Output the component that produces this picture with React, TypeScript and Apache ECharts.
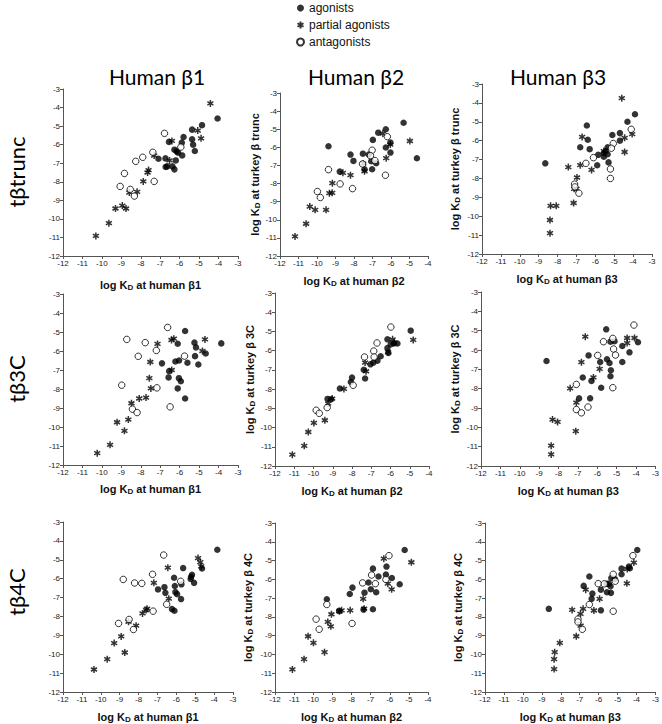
import React, { useEffect, useRef } from 'react';
import * as echarts from 'echarts';

// ---------- data: [human log KD, turkey log KD] ----------
// row 1: turkey beta trunc
const trunc_b1_ag = [[-4.05,-4.59],[-4.85,-4.95],[-5.36,-5.19],[-5.8,-5.59],[-5.36,-5.71],[-5.89,-5.89],[-5.31,-6.0],[-5.22,-6.34],[-6.27,-6.27],[-6.16,-6.36],[-6.08,-6.43],[-5.87,-6.58],[-6.73,-6.74],[-7.09,-6.76],[-6.2,-6.85],[-6.64,-7.17],[-6.37,-7.17],[-6.27,-7.33],[-6.55,-5.85],[-6.72,-7.2]];
const trunc_b1_pa = [[-4.42,-3.78],[-5.07,-5.24],[-4.9,-5.66],[-6.4,-5.8],[-7.31,-6.59],[-6.52,-6.85],[-7.6,-7.37],[-7.65,-7.5],[-7.87,-7.98],[-8.19,-8.54],[-8.59,-8.58],[-9.3,-9.44],[-8.95,-9.28],[-8.76,-9.44],[-9.64,-10.23],[-10.31,-10.92]];
const trunc_b1_an = [[-6.78,-5.39],[-5.94,-6.13],[-7.38,-6.41],[-7.9,-6.68],[-8.26,-6.9],[-8.84,-7.55],[-7.31,-7.98],[-9.06,-8.25],[-8.54,-8.41],[-8.33,-8.77]];

const trunc_b2_ag = [[-5.32,-4.64],[-6.28,-5.0],[-6.69,-5.19],[-6.98,-5.59],[-6.28,-6.01],[-6.03,-5.74],[-6.03,-6.29],[-9.38,-5.94],[-8.19,-6.4],[-8.03,-6.75],[-7.52,-6.35],[-7.2,-6.4],[-7.07,-6.77],[-6.8,-6.88],[-7.43,-7.21],[-7.02,-7.21],[-8.77,-7.34],[-4.6,-6.6]];
const trunc_b2_pa = [[-6.44,-5.24],[-4.98,-5.65],[-6.04,-5.85],[-6.26,-6.6],[-7.5,-6.9],[-7.43,-7.32],[-8.6,-7.41],[-8.19,-7.54],[-9.17,-7.98],[-9.33,-8.53],[-9.18,-8.51],[-10.39,-9.27],[-10.1,-9.45],[-9.51,-9.45],[-10.59,-10.22],[-11.19,-10.92]];
const trunc_b2_an = [[-6.2,-5.41],[-7.02,-6.16],[-7.11,-6.46],[-6.87,-6.73],[-7.54,-6.92],[-9.38,-7.23],[-8.75,-8.02],[-8.08,-8.28],[-9.98,-8.44],[-9.82,-8.77],[-6.3,-7.54]];

const trunc_b3_ag = [[-3.9,-4.6],[-4.3,-5.0],[-6.45,-5.2],[-5.1,-5.7],[-4.7,-5.6],[-4.7,-6.0],[-6.4,-5.95],[-6.8,-6.35],[-6.3,-6.45],[-5.35,-6.35],[-5.45,-6.55],[-5.55,-6.65],[-5.85,-6.75],[-5.55,-6.85],[-5.35,-6.72],[-5.3,-7.15],[-5.9,-7.3],[-8.65,-7.2]];
const trunc_b3_pa = [[-4.6,-3.75],[-4.05,-5.65],[-4.45,-5.85],[-4.45,-6.6],[-6.7,-5.8],[-5.55,-6.55],[-6.8,-7.3],[-7.43,-7.4],[-6.2,-7.55],[-6.97,-7.95],[-7.12,-8.55],[-7.0,-8.55],[-7.15,-9.3],[-8.37,-9.45],[-8.07,-9.45],[-8.4,-10.2],[-8.4,-10.9]];
const trunc_b3_an = [[-4.1,-5.4],[-5.05,-6.15],[-5.15,-6.4],[-6.1,-6.9],[-6.5,-7.2],[-5.2,-7.5],[-5.2,-8.0],[-7.1,-8.3],[-7.08,-8.45],[-6.87,-8.78]];

// row 2: turkey beta 3C
const b3c_b1_ag = [[-5.72,-4.95],[-3.86,-5.6],[-6.1,-5.62],[-5.24,-5.56],[-5.16,-5.81],[-4.66,-6.13],[-5.21,-6.27],[-5.04,-6.71],[-6.03,-6.5],[-6.22,-6.55],[-5.6,-6.62],[-6.91,-6.65],[-6.54,-7.06],[-6.57,-7.39],[-6.04,-7.43],[-5.94,-7.59],[-6.1,-7.97],[-5.72,-8.5]];
const b3c_b1_pa = [[-6.3,-5.35],[-6.42,-5.42],[-4.7,-5.39],[-4.83,-6.0],[-7.14,-5.63],[-7.51,-6.58],[-6.41,-7.0],[-7.56,-7.43],[-7.48,-7.97],[-8.48,-8.75],[-8.08,-8.5],[-7.73,-8.45],[-9.22,-9.75],[-8.64,-9.61],[-8.84,-10.2],[-9.58,-10.94],[-10.24,-11.38]];
const b3c_b1_an = [[-6.62,-4.76],[-8.72,-5.39],[-7.77,-5.56],[-7.2,-5.97],[-8.13,-6.28],[-5.75,-6.27],[-8.98,-7.8],[-7.17,-7.94],[-8.43,-9.06],[-8.19,-9.24],[-6.49,-8.94]];

const b3c_b2_ag = [[-4.95,-4.96],[-6.16,-5.41],[-5.99,-5.67],[-5.82,-5.63],[-5.64,-5.63],[-6.16,-5.86],[-6.11,-6.12],[-6.51,-6.29],[-6.68,-6.52],[-6.89,-6.62],[-7.04,-6.71],[-7.39,-6.99],[-7.32,-7.45],[-8.0,-7.4],[-8.06,-7.63],[-8.63,-7.97],[-9.27,-8.51],[-9.08,-8.53]];
const b3c_b2_pa = [[-11.1,-11.41],[-10.48,-10.95],[-10.27,-10.23],[-9.98,-9.76],[-9.41,-9.62],[-9.24,-8.75],[-9.03,-8.49],[-8.42,-7.99],[-7.32,-6.62],[-7.27,-7.07],[-6.13,-6.07],[-5.89,-5.41],[-4.82,-5.44],[-5.8,-5.58]];
const b3c_b2_an = [[-5.98,-4.77],[-6.7,-5.6],[-6.87,-6.02],[-7.35,-6.33],[-6.85,-6.33],[-7.94,-7.8],[-9.29,-8.96],[-9.86,-9.1],[-9.7,-9.26]];

const b3c_b3_ag = [[-3.9,-5.6],[-5.54,-4.93],[-5.32,-5.57],[-5.11,-5.55],[-4.71,-5.79],[-4.34,-6.12],[-6.45,-6.28],[-5.5,-6.48],[-5.85,-6.62],[-5.37,-6.67],[-4.71,-6.62],[-5.3,-7.05],[-5.32,-7.36],[-6.75,-7.42],[-6.3,-7.6],[-5.8,-7.95],[-6.94,-8.5],[-6.37,-8.5],[-8.62,-6.57]];
const b3c_b3_pa = [[-6.62,-5.31],[-4.46,-5.38],[-4.08,-5.38],[-4.46,-5.64],[-6.82,-6.63],[-5.88,-6.98],[-6.2,-7.42],[-7.4,-7.98],[-7.08,-8.72],[-8.31,-9.6],[-8.05,-9.72],[-7.11,-10.2],[-8.38,-10.95],[-8.38,-11.4]];
const b3c_b3_an = [[-4.11,-4.71],[-5.2,-5.4],[-5.68,-5.57],[-5.16,-5.95],[-5.06,-6.26],[-5.98,-6.28],[-5.2,-7.95],[-7.08,-7.78],[-7.08,-9.08],[-6.82,-9.25],[-6.48,-8.95]];

// row 3: turkey beta 4C
const b4c_b1_ag = [[-3.83,-4.47],[-4.64,-5.46],[-5.64,-5.44],[-5.17,-5.79],[-5.22,-5.9],[-5.24,-6.02],[-6.12,-5.95],[-5.73,-6.3],[-5.06,-6.22],[-6.63,-6.45],[-6.08,-6.39],[-6.97,-6.57],[-6.58,-6.75],[-6.05,-6.71],[-5.96,-6.82],[-5.75,-7.08],[-6.23,-7.61],[-6.1,-7.7]];
const b4c_b1_pa = [[-4.85,-4.91],[-4.73,-5.12],[-4.68,-5.35],[-6.45,-5.42],[-7.19,-6.22],[-6.4,-7.06],[-7.55,-7.59],[-7.6,-7.66],[-7.79,-7.84],[-8.53,-8.28],[-8.13,-8.49],[-8.92,-9.06],[-9.29,-9.41],[-8.73,-9.91],[-9.66,-10.26],[-10.36,-10.81]];
const b4c_b1_an = [[-6.67,-4.75],[-7.26,-5.77],[-8.81,-6.04],[-8.21,-6.23],[-7.83,-6.25],[-5.77,-6.14],[-6.51,-7.36],[-7.23,-7.72],[-8.5,-8.16],[-9.06,-8.37],[-8.27,-8.69]];

const b4c_b2_ag = [[-5.22,-4.44],[-6.88,-5.43],[-6.17,-5.32],[-6.2,-5.75],[-6.59,-5.85],[-5.89,-5.93],[-5.48,-6.26],[-7.11,-6.17],[-6.99,-6.53],[-6.71,-6.69],[-7.32,-6.71],[-7.95,-6.44],[-8.09,-6.78],[-9.29,-7.06],[-8.65,-7.68],[-7.37,-7.61],[-6.88,-7.59]];
const b4c_b2_pa = [[-6.31,-4.9],[-4.87,-5.09],[-6.1,-6.23],[-5.9,-6.53],[-7.39,-7.04],[-7.34,-7.56],[-8.07,-7.65],[-8.52,-7.65],[-8.63,-7.7],[-9.05,-7.86],[-9.24,-8.27],[-9.08,-8.5],[-10.27,-9.03],[-9.99,-9.38],[-9.41,-9.88],[-10.48,-10.25],[-11.09,-10.8]];
const b4c_b2_an = [[-6.04,-4.74],[-6.95,-5.77],[-6.2,-6.01],[-6.75,-6.23],[-7.42,-6.19],[-9.29,-7.34],[-9.85,-8.12],[-9.69,-8.66],[-7.97,-8.35]];

const b4c_b3_ag = [[-8.63,-7.57],[-3.96,-4.44],[-4.4,-5.32],[-4.35,-5.41],[-4.79,-5.43],[-4.79,-5.73],[-6.49,-5.85],[-5.33,-5.93],[-5.14,-5.98],[-5.46,-6.23],[-5.58,-6.24],[-5.37,-6.37],[-6.79,-6.35],[-5.88,-6.55],[-6.33,-6.76],[-5.56,-6.69],[-5.35,-6.72],[-6.37,-7.04],[-5.88,-7.65]];
const b4c_b3_pa = [[-4.14,-5.11],[-4.49,-5.45],[-4.51,-6.21],[-6.68,-6.55],[-5.95,-7.04],[-6.82,-7.57],[-7.4,-7.63],[-6.25,-7.66],[-6.96,-7.84],[-6.95,-8.46],[-7.18,-9.03],[-8.05,-9.38],[-8.32,-9.88],[-8.35,-10.25],[-8.35,-10.78]];
const b4c_b3_an = [[-4.19,-4.74],[-5.23,-5.73],[-5.12,-6.1],[-6.02,-6.23],[-5.7,-6.24],[-6.49,-7.34],[-5.23,-7.7],[-7.09,-8.12],[-7.09,-8.27],[-6.86,-8.66]];

const rowLabels = ['tβtrunc', 'tβ3C', 'tβ4C'];
const colTitles = ['Human β1', 'Human β2', 'Human β3'];
const xNameSuffix = ['β1', 'β2', 'β3'];
const yNameSuffix = ['β trunc', 'β 3C', 'β 4C'];
const xAxisMax = [-3, -4, -3];
const axisMin = -12;
const yAxisMax = -3;
const legendNames = ['agonists', 'partial agonists', 'antagonists'];

const panelData = [
  [trunc_b1_ag, trunc_b1_pa, trunc_b1_an],
  [trunc_b2_ag, trunc_b2_pa, trunc_b2_an],
  [trunc_b3_ag, trunc_b3_pa, trunc_b3_an],
  [b3c_b1_ag, b3c_b1_pa, b3c_b1_an],
  [b3c_b2_ag, b3c_b2_pa, b3c_b2_an],
  [b3c_b3_ag, b3c_b3_pa, b3c_b3_an],
  [b4c_b1_ag, b4c_b1_pa, b4c_b1_an],
  [b4c_b2_ag, b4c_b2_pa, b4c_b2_an],
  [b4c_b3_ag, b4c_b3_pa, b4c_b3_an],
];

// layout (pixels)
const gridBoxes = [
  { left: 63, top: 89, width: 175, height: 167, xGap: 22, yGap: 0 },
  { left: 280, top: 93, width: 148, height: 163, xGap: 18, yGap: 19 },
  { left: 482, top: 84, width: 170, height: 170, xGap: 18, yGap: 21 },
  { left: 63, top: 294, width: 175, height: 171, xGap: 17, yGap: 0 },
  { left: 275, top: 293, width: 154, height: 173, xGap: 18, yGap: 16 },
  { left: 481, top: 292, width: 175, height: 174, xGap: 18, yGap: 20 },
  { left: 63, top: 522, width: 170, height: 170, xGap: 18, yGap: 0 },
  { left: 275, top: 523, width: 153, height: 169, xGap: 18, yGap: 21 },
  { left: 485, top: 523, width: 171, height: 169, xGap: 18, yGap: 21 },
];
const rowLabelY = [172, 379, 592];
const colTitleX = [157, 356, 558];

const AST = 'path://M5,0L5,10M0.67,2.5L9.33,7.5M0.67,7.5L9.33,2.5';
const AXIS_FONT = 'Liberation Sans, Arial, sans-serif';

export default function App() {
  const ref = useRef<HTMLDivElement>(null);
  useEffect(() => {
    const chart = echarts.init(ref.current!, null, { renderer: 'svg' });
    const nameStyle = {
      fontFamily: AXIS_FONT,
      fontWeight: 'bold',
      fontSize: 11,
      lineHeight: 13,
      color: '#111',
      rich: {
        s: { fontFamily: AXIS_FONT, fontWeight: 'bold', fontSize: 8, color: '#111', verticalAlign: 'bottom', lineHeight: 8, padding: [6, 0, 0, 0] },
      },
    };
    const axisCommon = {
      min: axisMin,
      interval: 1,
      axisLine: { show: true, lineStyle: { color: '#555', width: 1 } },
      axisTick: { show: true, length: 3, lineStyle: { color: '#555' } },
      axisLabel: { fontSize: 8, color: '#222', margin: 3, fontFamily: AXIS_FONT },
      splitLine: { show: false },
    };
    const grids: any[] = [];
    const xAxes: any[] = [];
    const yAxes: any[] = [];
    const series: any[] = [];
    gridBoxes.forEach((g, i) => {
      const row = Math.floor(i / 3);
      const col = i % 3;
      grids.push({ left: g.left, top: g.top, width: g.width, height: g.height, containLabel: false });
      xAxes.push({
        ...axisCommon,
        type: 'value',
        gridIndex: i,
        max: xAxisMax[col],
        name: 'log K{s|D} at human ' + xNameSuffix[col],
        nameLocation: 'middle',
        nameGap: g.xGap,
        nameTextStyle: nameStyle,
      });
      yAxes.push({
        ...axisCommon,
        type: 'value',
        gridIndex: i,
        max: yAxisMax,
        name: col === 0 ? '' : 'log K{s|D} at turkey ' + yNameSuffix[row],
        nameLocation: 'middle',
        nameRotate: 90,
        nameGap: g.yGap,
        nameTextStyle: nameStyle,
      });
      const [ag, pa, an] = panelData[i];
      series.push({
        type: 'scatter', name: legendNames[0], xAxisIndex: i, yAxisIndex: i, data: ag,
        symbol: 'circle', symbolSize: 6.5, itemStyle: { color: '#000' },
      });
      series.push({
        type: 'scatter', name: legendNames[1], xAxisIndex: i, yAxisIndex: i, data: pa,
        symbol: AST, symbolSize: 7, symbolKeepAspect: true,
        itemStyle: { color: '#000', borderColor: '#000', borderWidth: 1.5 },
      });
      series.push({
        type: 'scatter', name: legendNames[2], xAxisIndex: i, yAxisIndex: i, data: an,
        symbol: 'circle', symbolSize: 6.5, itemStyle: { color: '#fff', borderColor: '#000', borderWidth: 1 },
      });
    });

    const graphics: any[] = [];
    colTitles.forEach((t, c) => {
      graphics.push({
        type: 'text', x: colTitleX[c], y: 76,
        style: { text: t, fontSize: 21, fontFamily: 'Lato, Open Sans, sans-serif', fill: '#000', align: 'center', verticalAlign: 'middle' },
      });
    });
    rowLabels.forEach((t, r) => {
      graphics.push({
        type: 'text', x: 16, y: rowLabelY[r], rotation: Math.PI / 2,
        style: { text: t, fontSize: 22, fontFamily: 'Lato, Open Sans, sans-serif', fill: '#000', align: 'center', verticalAlign: 'middle' },
      });
    });

    chart.setOption({
      animation: false,
      backgroundColor: '#fff',
      legend: {
        left: 296, top: 1, orient: 'vertical', padding: 0,
        itemWidth: 7, itemHeight: 7, itemGap: 3, selectedMode: false,
        textStyle: { fontSize: 12, lineHeight: 14, color: '#111', fontFamily: 'Liberation Sans, Arial, sans-serif' },
        data: [
          { name: legendNames[0], icon: 'circle' },
          { name: legendNames[1], icon: AST },
          { name: legendNames[2], icon: 'circle' },
        ],
      },
      grid: grids,
      xAxis: xAxes,
      yAxis: yAxes,
      series,
      graphic: graphics,
    });
    return () => chart.dispose();
  }, []);
  return <div ref={ref} style={{ position: 'absolute', left: 0, top: 0, width: 662, height: 724 }} />;
}
